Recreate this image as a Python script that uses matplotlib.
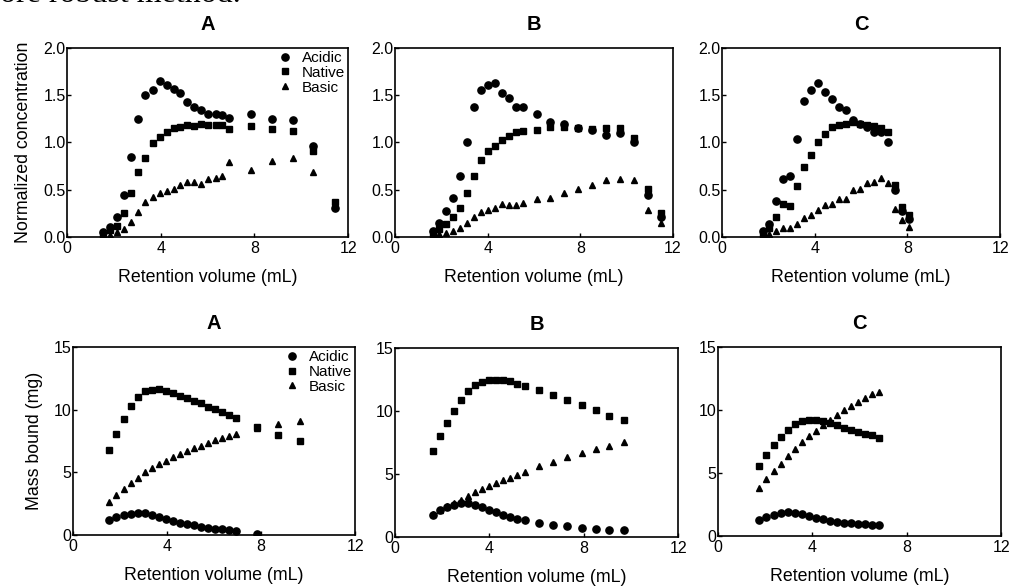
import matplotlib
matplotlib.use('Agg')
import matplotlib.pyplot as plt

plt.rcParams['font.family'] = ['Liberation Sans', 'DejaVu Sans']

# ---- top row: normalized concentration ----
xa_top = [1.53, 1.85, 2.13, 2.44, 2.74, 3.05, 3.35, 3.65, 3.95, 4.25, 4.55, 4.84,
          5.14, 5.44, 5.74, 6.04, 6.34, 6.63, 6.93, 7.84, 8.74, 9.63, 10.51, 11.43]
a_acidic = [0.05, 0.11, 0.21, 0.44, 0.85, 1.25, 1.50, 1.55, 1.65, 1.61, 1.57, 1.52,
            1.43, 1.38, 1.34, 1.30, 1.30, 1.29, 1.26, 1.30, 1.25, 1.24, 0.96, 0.31]
a_native = [0.02, 0.07, 0.12, 0.25, 0.47, 0.69, 0.84, 0.99, 1.06, 1.11, 1.15, 1.16,
            1.18, 1.17, 1.20, 1.19, 1.19, 1.18, 1.14, 1.17, 1.14, 1.12, 0.91, 0.37]
a_basic = [0.01, 0.02, 0.05, 0.08, 0.16, 0.26, 0.37, 0.42, 0.47, 0.49, 0.51, 0.55,
           0.58, 0.58, 0.56, 0.61, 0.62, 0.65, 0.79, 0.71, 0.80, 0.84, 0.69, 0.33]

xb_top = [1.62, 1.91, 2.20, 2.51, 2.82, 3.12, 3.42, 3.71, 4.01, 4.31, 4.61, 4.91,
          5.22, 5.52, 6.11, 6.71, 7.31, 7.90, 8.52, 9.11, 9.70, 10.30, 10.91, 11.49]
b_acidic = [0.06, 0.15, 0.27, 0.41, 0.65, 1.00, 1.37, 1.55, 1.61, 1.63, 1.52, 1.47,
            1.38, 1.38, 1.30, 1.22, 1.20, 1.15, 1.13, 1.08, 1.10, 1.01, 0.44, 0.21]
b_native = [0.03, 0.08, 0.14, 0.21, 0.31, 0.46, 0.64, 0.81, 0.91, 0.96, 1.03, 1.07,
            1.11, 1.12, 1.13, 1.16, 1.16, 1.15, 1.14, 1.15, 1.15, 1.05, 0.51, 0.25]
b_basic = [0.01, 0.03, 0.04, 0.06, 0.10, 0.15, 0.21, 0.26, 0.29, 0.31, 0.35, 0.34,
           0.34, 0.36, 0.40, 0.41, 0.46, 0.51, 0.55, 0.60, 0.61, 0.60, 0.29, 0.15]

xc_top = [1.75, 2.04, 2.34, 2.64, 2.95, 3.25, 3.55, 3.85, 4.15, 4.45, 4.76,
          5.06, 5.36, 5.66, 5.96, 6.26, 6.57, 6.87, 7.17, 7.47, 7.77, 8.07]
c_acidic = [0.06, 0.14, 0.38, 0.61, 0.64, 1.04, 1.44, 1.55, 1.63, 1.53, 1.46,
            1.38, 1.34, 1.24, 1.20, 1.16, 1.11, 1.11, 1.01, 0.50, 0.28, 0.19]
c_native = [0.02, 0.10, 0.21, 0.35, 0.33, 0.54, 0.74, 0.87, 1.00, 1.09, 1.16,
            1.18, 1.20, 1.22, 1.20, 1.18, 1.17, 1.15, 1.11, 0.55, 0.32, 0.23]
c_basic = [0.01, 0.03, 0.06, 0.09, 0.09, 0.14, 0.20, 0.23, 0.29, 0.34, 0.35,
           0.40, 0.40, 0.50, 0.51, 0.57, 0.58, 0.62, 0.57, 0.30, 0.18, 0.11]

# ---- bottom row: mass bound ----
xa_bot = [1.53, 1.84, 2.15, 2.46, 2.76, 3.06, 3.36, 3.65, 3.95, 4.25, 4.55,
          4.84, 5.14, 5.44, 5.74, 6.03, 6.33, 6.63, 6.93, 7.83, 8.74, 9.65]
ma_acidic = [1.20, 1.41, 1.57, 1.71, 1.79, 1.73, 1.60, 1.41, 1.25, 1.12, 0.99,
             0.85, 0.77, 0.67, 0.59, 0.51, 0.45, 0.40, 0.35, 0.11]
ma_native = [6.79, 8.07, 9.25, 10.31, 11.00, 11.46, 11.59, 11.64, 11.51, 11.32, 11.11,
             10.92, 10.71, 10.52, 10.26, 10.07, 9.86, 9.59, 9.33, 8.61, 7.99, 7.51]
ma_basic = [2.66, 3.20, 3.68, 4.13, 4.58, 5.01, 5.33, 5.68, 5.92, 6.21, 6.47,
            6.71, 6.93, 7.14, 7.38, 7.59, 7.78, 7.94, 8.07, 8.55, 8.87, 9.11]

xb_bot = [1.62, 1.92, 2.22, 2.51, 2.81, 3.11, 3.40, 3.70, 4.00, 4.29, 4.59,
          4.89, 5.18, 5.51, 6.11, 6.71, 7.30, 7.91, 8.50, 9.09, 9.69]
mb_acidic = [1.77, 2.12, 2.38, 2.57, 2.70, 2.70, 2.57, 2.38, 2.17, 1.96, 1.77,
             1.59, 1.46, 1.32, 1.11, 0.98, 0.85, 0.74, 0.63, 0.58, 0.53]
mb_native = [6.80, 7.99, 9.05, 10.03, 10.90, 11.61, 12.09, 12.30, 12.43, 12.49, 12.43,
             12.35, 12.14, 12.01, 11.69, 11.30, 10.85, 10.45, 10.05, 9.63, 9.26]
mb_basic = [1.85, 2.17, 2.43, 2.70, 2.96, 3.28, 3.57, 3.81, 4.07, 4.29, 4.50,
            4.68, 4.89, 5.13, 5.61, 5.95, 6.32, 6.67, 6.98, 7.25, 7.51]

xc_bot = [1.74, 2.05, 2.36, 2.66, 2.95, 3.25, 3.55, 3.84, 4.14, 4.44, 4.74,
          5.03, 5.33, 5.63, 5.92, 6.22, 6.52, 6.84]
mc_acidic = [1.30, 1.51, 1.69, 1.83, 1.90, 1.85, 1.77, 1.59, 1.46, 1.32, 1.19,
             1.11, 1.06, 1.03, 0.98, 0.93, 0.90, 0.85]
mc_native = [5.56, 6.46, 7.20, 7.86, 8.44, 8.86, 9.13, 9.23, 9.23, 9.13, 8.97,
             8.78, 8.60, 8.44, 8.25, 8.12, 7.99, 7.76]
mc_basic = [3.84, 4.50, 5.13, 5.74, 6.35, 6.93, 7.46, 7.94, 8.33, 8.78, 9.18,
            9.58, 9.97, 10.32, 10.63, 10.98, 11.24, 11.43]

fig = plt.figure(figsize=(10.11, 5.87), dpi=100)

# cut-off line of document text above the figure
fig.text(0.0, 0.996, 'ore robust method.', fontsize=23, family='Liberation Serif',
         va='baseline', ha='left')


def draw(rect, title, xs, acidic, native, basic, ylim, yticks, ylabels, ylabel=None, legend=False):
    ax = fig.add_axes(rect)
    ax.plot(xs[:len(acidic)], acidic, 'o', color='black', markersize=5.2, label='Acidic')
    ax.plot(xs[:len(native)], native, 's', color='black', markersize=5, label='Native')
    ax.plot(xs[:len(basic)], basic, '^', color='black', markersize=4.8, label='Basic')
    ax.set_xlim(0, 12)
    ax.set_ylim(*ylim)
    ax.set_xticks([0, 4, 8, 12])
    ax.set_yticks(yticks)
    ax.set_yticklabels(ylabels)
    ax.tick_params(direction='in', length=3, width=1, labelsize=11.5)
    ax.tick_params(axis='y', pad=1)
    ax.tick_params(axis='x', pad=3)
    for s in ax.spines.values():
        s.set_linewidth(1.2)
    ax.set_title(title, fontsize=14.5, fontweight='bold', pad=13)
    ax.set_xlabel('Retention volume (mL)', fontsize=12.8, labelpad=9)
    if ylabel:
        ax.set_ylabel(ylabel, fontsize=12.8, labelpad=8)
    if legend:
        ax.legend(loc='upper right', frameon=False, fontsize=11, handlelength=1,
                  handletextpad=0.6, labelspacing=0.05, borderaxespad=0.1,
                  borderpad=0.1)
    return ax


ct = [0, 0.5, 1.0, 1.5, 2.0]
ctl = ['0.0', '0.5', '1.0', '1.5', '2.0']
mt = [0, 5, 10, 15]
mtl = ['0', '5', '10', '15']

draw([0.0663, 0.5963, 0.278, 0.322], 'A', xa_top, a_acidic, a_native, a_basic,
     (0, 2), ct, ctl, ylabel='Normalized concentration', legend=True)
draw([0.3907, 0.5963, 0.275, 0.322], 'B', xb_top, b_acidic, b_native, b_basic,
     (0, 2), ct, ctl)
draw([0.7142, 0.5963, 0.275, 0.322], 'C', xc_top, c_acidic, c_native, c_basic,
     (0, 2), ct, ctl)

draw([0.0722, 0.0886, 0.279, 0.320], 'A', xa_bot, ma_acidic, ma_native, ma_basic,
     (0, 15), mt, mtl, ylabel='Mass bound (mg)', legend=True)
draw([0.3907, 0.0852, 0.280, 0.322], 'B', xb_bot, mb_acidic, mb_native, mb_basic,
     (0, 15), mt, mtl)
draw([0.7102, 0.0869, 0.280, 0.322], 'C', xc_bot, mc_acidic, mc_native, mc_basic,
     (0, 15), mt, mtl)

fig.savefig('out.png', dpi=100)
